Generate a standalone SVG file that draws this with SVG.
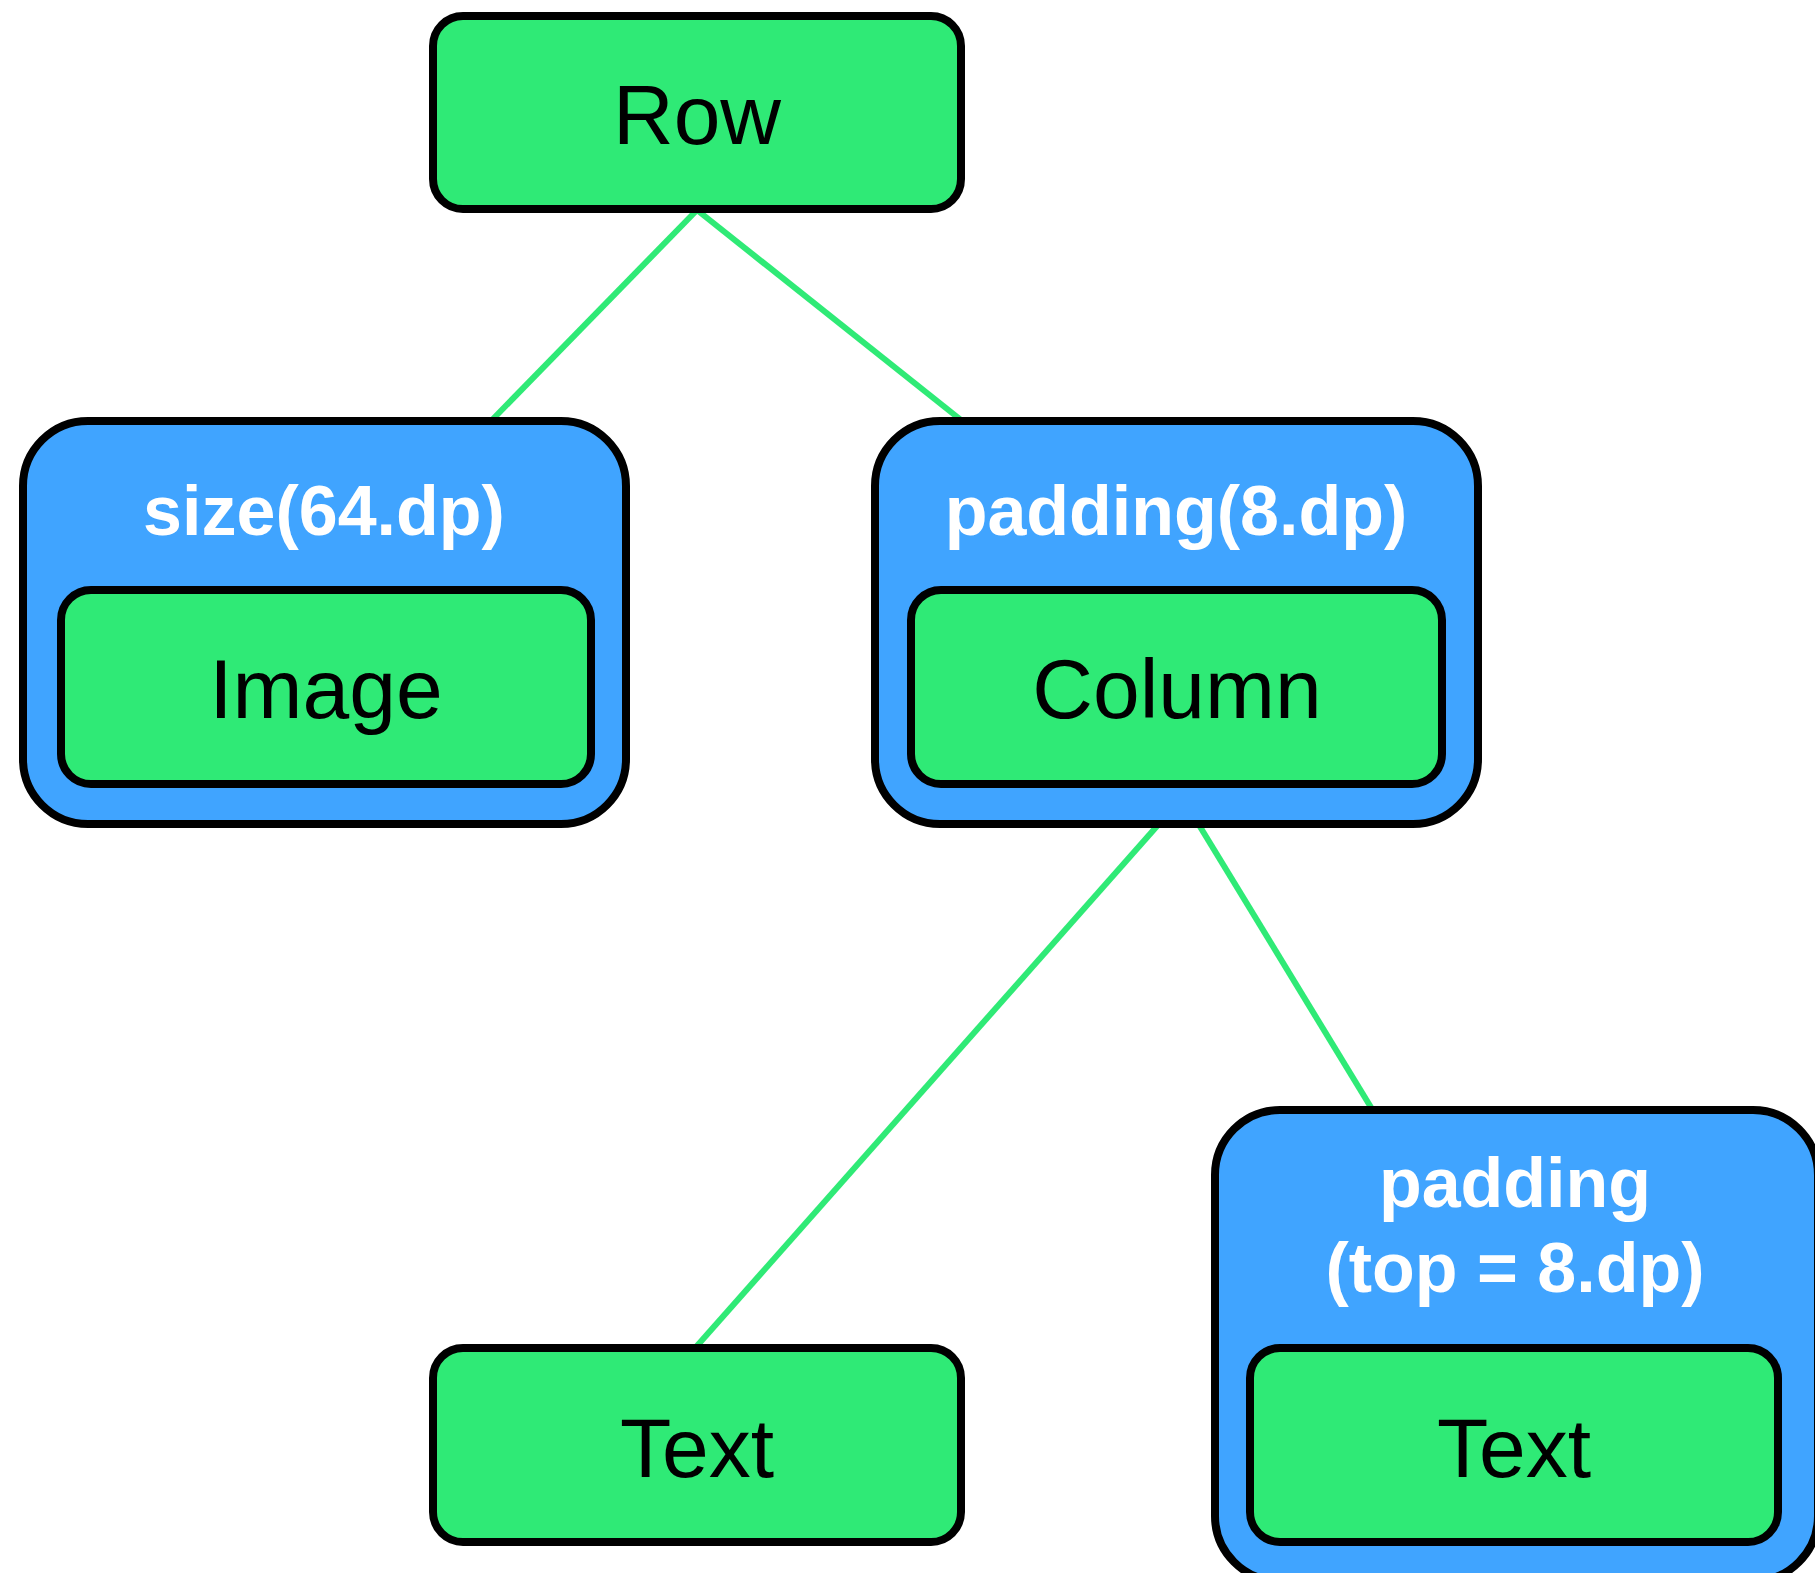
<svg xmlns="http://www.w3.org/2000/svg" width="1815" height="1573" viewBox="0 0 1815 1573">
  <style>
    .wrap { fill: #40A4FF; stroke: #000; stroke-width: 8; }
    .box { fill: #2FEA76; stroke: #000; stroke-width: 8; }
    .lbl { font-family: "Liberation Sans", Arial, sans-serif; font-size: 84px; fill: #000; text-anchor: middle; }
    .mod { font-family: "Liberation Sans", Arial, sans-serif; font-size: 70px; font-weight: bold; fill: #fff; text-anchor: middle; }
    .edge { stroke: #2FEA76; stroke-width: 6; fill: none; }
  </style>
  <rect width="1815" height="1573" fill="#fff"/>
  <g id="connectors">
    <line class="edge" x1="697" y1="210" x2="492" y2="420"/>
    <line class="edge" x1="697" y1="210" x2="961" y2="420"/>
    <line class="edge" x1="1158" y1="825" x2="696" y2="1347"/>
    <line class="edge" x1="1199" y1="825" x2="1372" y2="1109"/>
  </g>
  <g id="row">
    <rect class="box" x="433" y="16" width="528" height="193" rx="30"/>
    <text class="lbl" x="697" y="144">Row</text>
  </g>
  <g id="size-modifier">
    <rect class="wrap" x="23" y="421" width="603" height="403" rx="65"/>
    <text class="mod" x="324" y="535">size(64.dp)</text>
  </g>
  <g id="image">
    <rect class="box" x="61" y="590" width="530" height="194" rx="30"/>
    <text class="lbl" x="326" y="718">Image</text>
  </g>
  <g id="padding-modifier">
    <rect class="wrap" x="875" y="421" width="603" height="403" rx="65"/>
    <text class="mod" x="1176" y="535">padding(8.dp)</text>
  </g>
  <g id="column">
    <rect class="box" x="911" y="590" width="531" height="194" rx="30"/>
    <text class="lbl" x="1177" y="718">Column</text>
  </g>
  <g id="text-1">
    <rect class="box" x="433" y="1348" width="528" height="194" rx="30"/>
    <text class="lbl" x="697" y="1477">Text</text>
  </g>
  <g id="padding-top-modifier">
    <rect class="wrap" x="1215" y="1110" width="603" height="471" rx="65"/>
    <text class="mod" x="1515" y="1207">padding</text>
    <text class="mod" x="1515" y="1292">(top = 8.dp)</text>
  </g>
  <g id="text-2">
    <rect class="box" x="1250" y="1348" width="528" height="194" rx="30"/>
    <text class="lbl" x="1514" y="1477">Text</text>
  </g>
</svg>
